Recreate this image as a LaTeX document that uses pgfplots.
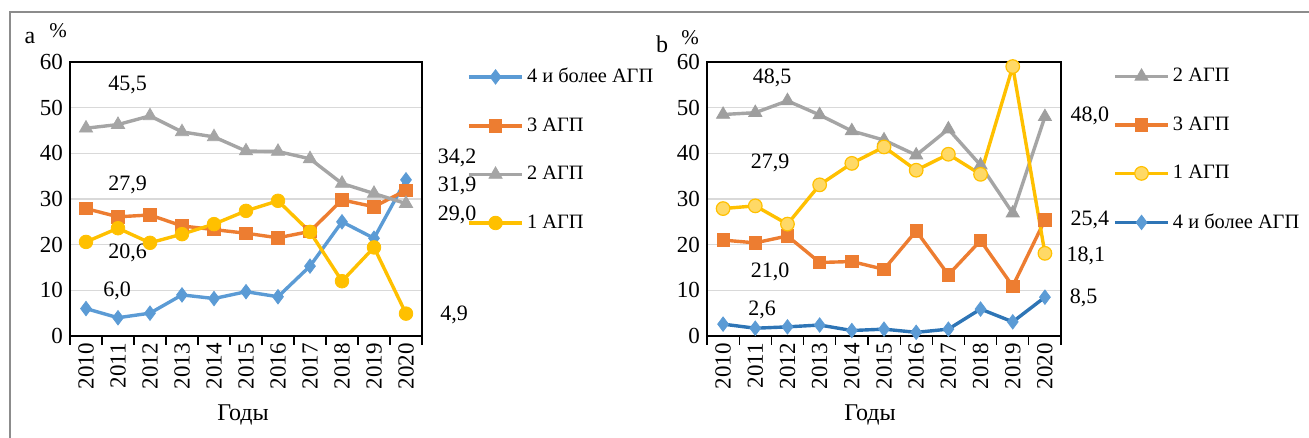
\documentclass[border=0pt]{standalone}
\usepackage{pgfplots}
\pgfplotsset{compat=1.18}
\usepackage{fontspec}
\setmainfont{Liberation Serif}
\definecolor{cblue}{HTML}{5B9BD5}
\definecolor{cblued}{HTML}{2E75B6}
\definecolor{corange}{HTML}{ED7D31}
\definecolor{cgray}{HTML}{A5A5A5}
\definecolor{cgrayd}{HTML}{9E9E9E}
\definecolor{cyellow}{HTML}{FFC000}
\definecolor{cyellowl}{HTML}{FFD966}
\definecolor{gridc}{HTML}{D9D9D9}
\definecolor{framec}{HTML}{8C8C8C}

\tikzset{dl/.style={font=\fontsize{11}{13}\selectfont, inner sep=0pt}}
\pgfplotsset{
  myaxis/.style={
    scale only axis,
    anchor=south west,
    height=137pt,
    xmin=-0.5, xmax=10.5,
    ymin=0, ymax=60,
    xtick={0,...,10},
    xticklabels={2010,2011,2012,2013,2014,2015,2016,2017,2018,2019,2020},
    x tick label style={rotate=90, anchor=east, font=\fontsize{11.5}{13}\selectfont},
    minor xtick={-0.5,0.5,...,10.5},
    ytick={0,10,...,60},
    y tick label style={font=\fontsize{11.5}{13}\selectfont},
    major tick length=0pt,
    minor tick length=4.5pt,
    tick align=outside,
    xtick pos=bottom, ytick pos=left,
    minor tick style={black, line width=0.6pt},
    ymajorgrids, grid style={gridc, line width=0.6pt},
    axis line style={black, line width=0.6pt},
    /pgf/number format/assume math mode=true,
    clip=false,
    every axis plot/.append style={line width=1.7pt},
    legend style={draw=none, fill=none, font=\fontsize{10.2}{12.2}\selectfont,
      row sep=13pt, anchor=north west, inner sep=0pt,
      nodes={inner sep=1.5pt}},
    legend cell align=left,
    legend image code/.code={\draw[mark repeat=2,mark phase=2] plot coordinates {(0cm,0cm) (0.47cm,0cm) (0.94cm,0cm)};},
  },
}

\begin{document}
\begin{tikzpicture}
\useasboundingbox (0,0) rectangle (654.5pt,219pt);
\draw[framec, line width=1pt] (5pt,0) -- (5pt,213pt) -- (654.5pt,213pt);

% ---------- panel a ----------
\begin{axis}[myaxis, at={(35pt,51pt)}, width=176pt,
  legend style={at={(1.127,0.99)}}]
\addplot[cblue, mark=diamond*, mark size=3.6pt, mark options={fill=cblue, line width=0.4pt}]
  coordinates {(0,6.0)(1,4.0)(2,5.0)(3,9.0)(4,8.2)(5,9.7)(6,8.6)(7,15.3)(8,25.0)(9,21.4)(10,34.2)};
\addlegendentry{4 и более АГП}
\addplot[corange, mark=square*, mark size=3.1pt, mark options={fill=corange, line width=0.4pt}]
  coordinates {(0,27.9)(1,26.1)(2,26.5)(3,24.1)(4,23.3)(5,22.5)(6,21.5)(7,22.9)(8,29.8)(9,28.3)(10,31.9)};
\addlegendentry{3 АГП}
\addplot[cgray, mark=triangle*, mark size=3.8pt, mark options={fill=cgray, line width=0.4pt}]
  coordinates {(0,45.5)(1,46.3)(2,48.2)(3,44.7)(4,43.6)(5,40.5)(6,40.4)(7,38.8)(8,33.4)(9,31.2)(10,29.0)};
\addlegendentry{2 АГП}
\addplot[cyellow, mark=*, mark size=3.4pt, mark options={fill=cyellow, line width=0.4pt}]
  coordinates {(0,20.6)(1,23.6)(2,20.4)(3,22.3)(4,24.5)(5,27.4)(6,29.6)(7,22.8)(8,12.0)(9,19.4)(10,4.9)};
\addlegendentry{1 АГП}
\node[dl] at (axis cs:1.3,55) {45,5};
\node[dl] at (axis cs:1.3,33) {27,9};
\node[dl] at (axis cs:1.3,18.2) {20,6};
\node[dl] at (axis cs:0.97,9.9) {6,0};
\node[dl] at (axis cs:11.6,39) {34,2};
\node[dl] at (axis cs:11.6,32.8) {31,9};
\node[dl] at (axis cs:11.6,26.5) {29,0};
\node[dl] at (axis cs:11.5,4.6) {4,9};
\end{axis}

% ---------- panel b ----------
\begin{axis}[myaxis, at={(353.5pt,51pt)}, width=177pt,
  legend style={at={(1.146,0.99)}}]
\addplot[cgray, mark=triangle*, mark size=3.8pt, mark options={fill=cgrayd, draw=cgrayd, line width=0.4pt}]
  coordinates {(0,48.5)(1,48.9)(2,51.5)(3,48.4)(4,44.9)(5,42.9)(6,39.6)(7,45.3)(8,37.4)(9,26.9)(10,48.0)};
\addlegendentry{2 АГП}
\addplot[corange, mark=square*, mark size=3.1pt, mark options={fill=corange, line width=0.4pt}]
  coordinates {(0,21.0)(1,20.4)(2,21.9)(3,16.1)(4,16.3)(5,14.6)(6,23.0)(7,13.4)(8,20.9)(9,10.9)(10,25.4)};
\addlegendentry{3 АГП}
\addplot[cyellow, mark=*, mark size=3.4pt, mark options={fill=cyellowl, draw=cyellow, line width=0.6pt}]
  coordinates {(0,27.9)(1,28.5)(2,24.5)(3,33.1)(4,37.8)(5,41.4)(6,36.3)(7,39.8)(8,35.4)(9,59.0)(10,18.1)};
\addlegendentry{1 АГП}
\addplot[cblued, mark=diamond*, mark size=3.6pt, mark options={fill=cblue, draw=cblue, line width=0.4pt}]
  coordinates {(0,2.6)(1,1.7)(2,2.0)(3,2.4)(4,1.2)(5,1.5)(6,0.8)(7,1.5)(8,5.9)(9,3.1)(10,8.5)};
\addlegendentry{4 и более АГП}
\node[dl] at (axis cs:1.52,56.5) {48,5};
\node[dl] at (axis cs:1.46,37.9) {27,9};
\node[dl] at (axis cs:1.46,14.0) {21,0};
\node[dl] at (axis cs:1.21,5.7) {2,6};
\node[dl] at (axis cs:11.4,48.2) {48,0};
\node[dl] at (axis cs:11.4,25.4) {25,4};
\node[dl] at (axis cs:11.27,17.5) {18,1};
\node[dl] at (axis cs:11.2,8.3) {8,5};
\end{axis}

\node[font=\fontsize{12}{14}\selectfont] at (15pt,200pt) {a};
\node[font=\fontsize{10.5}{12}\selectfont] at (29pt,203.5pt) {\%};
\node[font=\fontsize{12}{14}\selectfont] at (331pt,197pt) {b};
\node[font=\fontsize{10.5}{12}\selectfont] at (345pt,200pt) {\%};
\node[font=\fontsize{12}{14}\selectfont] at (121.5pt,11.5pt) {Годы};
\node[font=\fontsize{12}{14}\selectfont] at (435pt,11.5pt) {Годы};
\end{tikzpicture}
\end{document}
